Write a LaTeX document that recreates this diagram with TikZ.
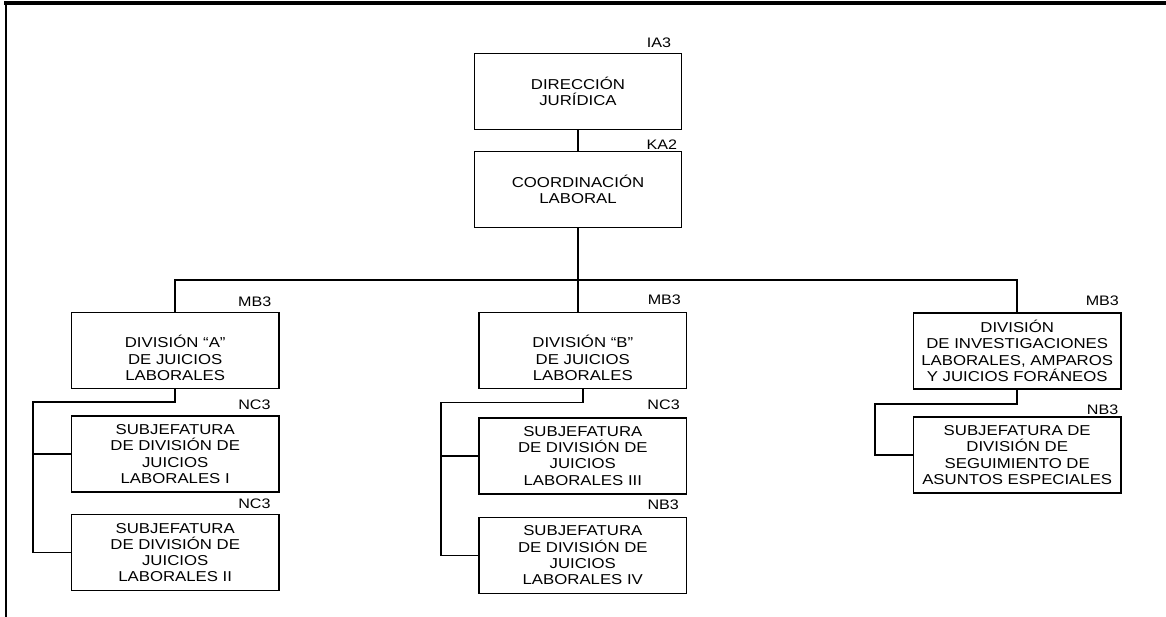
\documentclass[tikz,border=0pt]{standalone}
\usepackage{fontspec}
\setmainfont{Liberation Sans}[FakeStretch=1.17]
\usepackage{tikz}

\newcommand{\lowered}[1]{\raisebox{-9.5pt}[0pt][0pt]{\begin{tabular}{@{}c@{}}#1\end{tabular}}}

\begin{document}
\begin{tikzpicture}[
    unit/.style={draw,line width=1.15pt,minimum width=5.18cm,minimum height=1.9cm,inner sep=1pt,
      align=center,font=\fontsize{10.2}{11.6}\selectfont},
    lbl/.style={anchor=base east,inner sep=0pt,font=\fontsize{9.8}{11}\selectfont},
    conn/.style={line width=1.05pt}
  ]
    \useasboundingbox (0,0) rectangle (29.15,15.425);
    \draw[line width=1.7pt] (0.15,0) -- (0.15,15.35);
    \draw[line width=2.2pt] (0.1,15.35) -- (29.15,15.35);

    \node[unit] (dir)    at (14.45,13.14) {DIRECCIÓN\\ JURÍDICA};
    \node[unit] (coord)  at (14.45,10.69) {COORDINACIÓN\\ LABORAL};
    \node[unit] (divA)   at (4.38,6.66)   {\lowered{DIVISIÓN “A”\\ DE JUICIOS\\ LABORALES}};
    \node[unit] (subI)   at (4.38,4.07)   {SUBJEFATURA\\ DE DIVISIÓN DE\\ JUICIOS\\ LABORALES I};
    \node[unit] (subII)  at (4.38,1.61)   {SUBJEFATURA\\ DE DIVISIÓN DE\\ JUICIOS\\ LABORALES II};
    \node[unit] (divB)   at (14.57,6.66)  {\lowered{DIVISIÓN “B”\\ DE JUICIOS\\ LABORALES}};
    \node[unit] (subIII) at (14.57,4.03)  {SUBJEFATURA\\ DE DIVISIÓN DE\\ JUICIOS\\ LABORALES III};
    \node[unit] (subIV)  at (14.57,1.54)  {SUBJEFATURA\\ DE DIVISIÓN DE\\ JUICIOS\\ LABORALES IV};
    \node[unit] (divC)   at (25.43,6.65)  {DIVISIÓN\\ DE INVESTIGACIONES\\ LABORALES, AMPAROS\\ Y JUICIOS FORÁNEOS};
    \node[unit] (subC)   at (25.43,4.05)  {SUBJEFATURA DE\\ DIVISIÓN DE\\ SEGUIMIENTO DE\\ ASUNTOS ESPECIALES};

    \node[lbl] (lDir)    at ([xshift=-0.275cm,yshift=0.125cm]dir.north east)  {IA3};
    \node[lbl] (lCoord)  at ([xshift=-0.125cm,yshift=0.03cm]coord.north east) {KA2};
    \node[lbl] (lDivA)   at ([xshift=-0.2cm,yshift=0.14cm]divA.north east)    {MB3};
    \node[lbl] (lSubI)   at ([xshift=-0.22cm,yshift=0.15cm]subI.north east)   {NC3};
    \node[lbl] (lSubII)  at ([xshift=-0.22cm,yshift=0.13cm]subII.north east)  {NC3};
    \node[lbl] (lDivB)   at ([xshift=-0.15cm,yshift=0.17cm]divB.north east)   {MB3};
    \node[lbl] (lSubIII) at ([xshift=-0.18cm,yshift=0.19cm]subIII.north east) {NC3};
    \node[lbl] (lSubIV)  at ([xshift=-0.2cm,yshift=0.17cm]subIV.north east)   {NB3};
    \node[lbl] (lDivC)   at ([xshift=-0.06cm,yshift=0.17cm]divC.north east)   {MB3};
    \node[lbl] (lSubC)   at ([xshift=-0.075cm,yshift=0.04cm]subC.north east)  {NB3};

    \coordinate (bus) at (14.45,8.425);
    \coordinate (jA)  at (0.83,5.37);
    \coordinate (jB)  at (11.02,5.36);
    \coordinate (jC)  at (21.875,5.325);

    \draw[conn] (dir) -- (coord);
    \draw[conn] (coord) -- (coord |- divB.north);
    \draw[conn] (divA.north) |- (bus) -| (divC.north);
    \draw[conn] (divA.south) |- (jA) |- (subII.west);
    \draw[conn] (jA |- subI.west) -- (subI.west);
    \draw[conn] (divB.south) |- (jB) |- (subIV.west);
    \draw[conn] (jB |- subIII.west) -- (subIII.west);
    \draw[conn] (divC.south) |- (jC) |- (subC.west);
  \end{tikzpicture}
\end{document}
